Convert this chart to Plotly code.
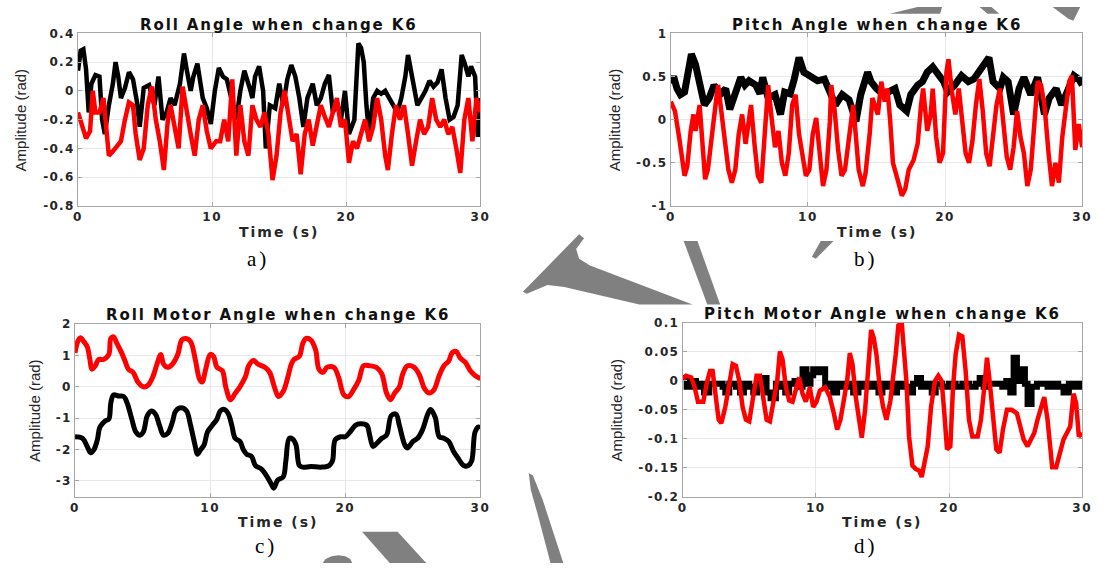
import plotly.graph_objects as go

W, H = 1105, 570

# ---------------- data ----------------
time_ticks = [0, 10, 20, 30]

roll_black = [(0,0.14),(0.2,0.28),(0.4,0.29),(0.6,0.15),(0.8,-0.15),(1.0,0.05),(1.3,0.11),(1.6,0.10),(1.8,-0.20),(2.0,-0.30),
              (2.3,-0.10),(2.6,0.05),(2.8,0.20),(3.0,0.10),(3.2,-0.05),(3.5,0.02),(3.8,0.13),(4.1,0.08),(4.4,-0.08),(4.6,-0.25),
              (4.9,0.02),(5.3,0.04),(5.7,-0.10),(6.0,0.10),(6.3,-0.20),(6.6,-0.15),(6.9,-0.05),(7.2,-0.10),(7.6,0.05),(7.9,0.26),
              (8.1,0.15),(8.4,0.00),(8.6,0.10),(8.9,0.19),(9.3,-0.05),(9.6,-0.12),(9.9,-0.23),(10.2,0.00),(10.5,0.16),(10.8,0.10),
              (11.1,0.08),(11.5,-0.10),(11.8,-0.20),(12.1,0.00),(12.4,0.14),(12.8,0.02),(13.0,-0.05),(13.2,0.10),(13.5,0.17),(13.8,0.00),
              (14.0,-0.40),(14.3,-0.10),(14.7,-0.12),(15.0,0.05),(15.3,-0.10),(15.6,0.08),(15.9,0.18),(16.2,0.10),(16.5,-0.05),(16.8,-0.25),
              (17.1,-0.05),(17.5,0.05),(17.8,-0.10),(18.1,-0.05),(18.4,0.05),(18.7,0.11),(19.0,-0.15),(19.3,-0.08),(19.6,-0.20),(19.9,0.00),
              (20.2,-0.30),(20.6,-0.20),(20.9,0.33),(21.1,0.30),(21.3,0.20),(21.5,-0.10),(21.7,-0.30),(22.0,-0.05),(22.3,0.00),(22.6,-0.02),
              (22.9,0.00),(23.2,-0.05),(23.5,-0.10),(23.8,-0.15),(24.1,-0.05),(24.4,0.10),(24.6,0.25),(24.8,0.15),(25.0,0.05),(25.3,-0.10),
              (25.6,-0.05),(25.9,0.00),(26.2,0.07),(26.5,0.03),(26.8,0.06),(27.1,0.15),(27.4,-0.05),(27.7,-0.20),(28.0,-0.18),(28.3,-0.10),
              (28.6,0.25),(28.8,0.20),(29.1,0.10),(29.3,0.17),(29.6,0.10),(29.8,-0.32),(30.0,-0.05)]

roll_red = [(0,-0.15),(0.3,-0.25),(0.6,-0.33),(0.9,-0.28),(1.1,0.00),(1.3,-0.15),(1.6,-0.15),(1.9,-0.05),(2.1,-0.30),(2.3,-0.45),
            (2.6,-0.42),(2.9,-0.38),(3.2,-0.35),(3.5,-0.20),(3.8,-0.08),(4.1,-0.10),(4.3,-0.30),(4.6,-0.48),(4.9,-0.40),(5.2,-0.10),
            (5.5,0.03),(5.8,-0.20),(6.1,-0.35),(6.4,-0.55),(6.7,-0.20),(6.9,-0.10),(7.2,-0.25),(7.5,-0.40),(7.8,0.03),(8.1,-0.15),
            (8.4,-0.30),(8.7,-0.45),(9.0,-0.20),(9.3,-0.10),(9.6,-0.28),(9.9,-0.40),(10.3,-0.35),(10.6,-0.35),(10.9,-0.20),(11.2,-0.35),
            (11.5,0.08),(11.8,-0.45),(12.1,-0.10),(12.4,-0.35),(12.7,-0.45),(13.0,-0.10),(13.3,-0.20),(13.6,-0.25),(13.9,-0.15),(14.2,-0.30),
            (14.5,-0.62),(14.8,-0.45),(15.1,-0.15),(15.4,0.00),(15.7,-0.20),(16.0,-0.35),(16.3,-0.30),(16.6,-0.58),(16.9,-0.30),(17.2,-0.20),
            (17.5,-0.38),(17.8,-0.25),(18.1,-0.10),(18.4,-0.18),(18.7,-0.25),(19.0,-0.15),(19.3,-0.05),(19.6,-0.25),(19.9,-0.20),(20.2,-0.50),
            (20.5,-0.35),(20.8,-0.40),(21.1,-0.30),(21.4,-0.20),(21.7,-0.35),(22.0,-0.25),(22.3,-0.05),(22.6,-0.20),(22.9,-0.45),(23.1,-0.55),
            (23.4,-0.30),(23.7,-0.10),(24.0,-0.20),(24.3,-0.10),(24.6,-0.30),(24.9,-0.52),(25.2,-0.35),(25.5,-0.20),(25.8,-0.30),(26.1,-0.25),
            (26.4,-0.05),(26.7,-0.20),(27.0,-0.25),(27.3,-0.20),(27.6,-0.30),(27.9,-0.25),(28.2,-0.40),(28.5,-0.57),(28.8,-0.20),(29.1,-0.05),
            (29.4,-0.35),(29.7,-0.05),(30.0,-0.15)]

pitch_black = [(0,0.42),(0.2,0.50),(0.45,0.36),(0.7,0.29),(1.0,0.32),(1.3,0.55),(1.5,0.76),(1.8,0.64),(2.2,0.36),(2.45,0.17),
               (2.8,0.25),(3.15,0.40),(3.6,0.29),(4.0,0.36),(4.3,0.12),(4.7,0.34),(5.1,0.49),(5.4,0.40),(5.7,0.45),(6.2,0.40),
               (6.5,0.30),(6.7,0.49),(7.1,0.25),(7.6,0.29),(8.0,0.06),(8.3,0.32),(8.7,0.30),(9.0,0.47),(9.35,0.72),(9.7,0.55),
               (10.2,0.49),(10.7,0.45),(11.2,0.47),(11.6,0.29),(12.0,0.17),(12.5,0.29),(13.0,0.23),(13.5,-0.02),(13.85,0.29),(14.35,0.55),
               (14.6,0.44),(15.0,0.36),(15.5,0.29),(15.85,0.32),(16.35,0.36),(16.7,0.17),(17.2,0.10),(17.5,0.29),(18.0,0.40),(18.35,0.44),
               (18.7,0.55),(19.1,0.61),(19.5,0.51),(19.9,0.44),(20.2,0.32),(20.7,0.40),(21.2,0.51),(21.7,0.44),(22.1,0.47),(22.5,0.55),
               (22.85,0.62),(23.2,0.72),(23.5,0.44),(24.0,0.36),(24.25,0.49),(24.6,0.44),(25.0,0.06),(25.4,0.36),(25.75,0.49),(26.25,0.29),
               (26.75,0.49),(27.25,0.06),(27.6,0.25),(28.1,0.36),(28.5,0.17),(29.0,0.36),(29.4,0.51),(29.75,0.47),(30.0,0.40)]

pitch_red = [(0,0.21),(0.3,0.10),(0.6,-0.20),(0.85,-0.54),(1.0,-0.65),(1.2,-0.54),(1.45,-0.13),(1.65,0.06),(1.8,-0.13),(2.1,0.17),
             (2.35,-0.39),(2.5,-0.69),(2.7,-0.58),(3.0,-0.13),(3.35,0.29),(3.45,0.40),(3.7,0.06),(3.95,-0.28),(4.2,-0.58),(4.45,-0.73),
             (4.7,-0.58),(4.95,-0.17),(5.2,0.06),(5.45,-0.28),(5.85,0.17),(6.1,-0.28),(6.35,-0.65),(6.6,-0.73),(6.85,-0.20),(7.1,0.40),
             (7.35,0.02),(7.6,-0.32),(7.85,-0.13),(8.1,-0.50),(8.35,-0.65),(8.6,-0.39),(8.85,0.17),(9.1,0.29),(9.35,-0.17),(9.6,-0.39),
             (9.85,-0.65),(10.1,-0.58),(10.35,-0.17),(10.6,0.02),(10.85,-0.35),(11.1,-0.77),(11.35,-0.58),(11.6,-0.02),(11.7,0.40),(11.95,0.10),
             (12.2,-0.35),(12.45,-0.65),(12.7,-0.58),(13.0,-0.17),(13.3,0.17),(13.5,-0.20),(13.7,-0.58),(14.0,-0.77),(14.2,-0.62),(14.5,-0.17),
             (14.7,0.25),(15.1,0.06),(15.35,0.44),(15.6,0.21),(15.8,0.36),(16.0,-0.02),(16.2,-0.50),(16.6,-0.73),(16.85,-0.88),(17.1,-0.80),
             (17.35,-0.58),(17.7,-0.47),(18.0,-0.28),(18.25,0.17),(18.4,0.36),(18.7,-0.13),(18.95,0.06),(19.1,0.36),(19.35,-0.20),(19.6,-0.50),
             (19.85,-0.39),(20.1,0.55),(20.25,0.70),(20.5,0.32),(20.75,0.06),(21.0,0.36),(21.25,-0.02),(21.5,-0.39),(21.75,-0.50),(22.0,-0.24),
             (22.25,0.17),(22.5,0.47),(22.75,0.10),(23.0,-0.39),(23.25,-0.54),(23.5,-0.13),(23.75,0.17),(24.0,0.36),(24.25,-0.02),(24.5,-0.43),
             (24.75,-0.58),(25.0,-0.32),(25.25,0.10),(25.5,-0.20),(25.75,-0.39),(26.0,-0.77),(26.25,-0.58),(26.5,-0.02),(26.75,0.44),(27.0,0.40),
             (27.25,0.17),(27.55,-0.39),(27.8,-0.77),(28.05,-0.50),(28.3,-0.73),(28.55,-0.20),(28.8,0.17),(29.05,0.44),(29.25,0.51),(29.5,-0.35),
             (29.75,-0.05),(30.0,-0.32)]

roll_motor_red = [(0,1.08),(0.2,1.44),(0.4,1.56),(0.65,1.44),(0.9,1.28),(1.1,0.87),(1.25,0.56),(1.5,0.67),(1.75,0.87),(2.1,0.87),
                  (2.5,1.03),(2.65,1.54),(2.85,1.59),(3.1,1.38),(3.45,1.08),(3.7,0.82),(3.95,0.56),(4.3,0.46),(4.65,0.15),(5.05,0.00),
                  (5.4,0.05),(5.75,0.31),(6.1,0.77),(6.35,1.03),(6.55,0.72),(6.85,0.62),(7.2,0.72),(7.6,1.03),(7.9,1.49),(8.2,1.54),
                  (8.55,1.44),(8.9,0.87),(9.2,0.26),(9.4,0.15),(9.7,0.62),(10.0,1.03),(10.25,0.97),(10.5,0.62),(10.9,0.51),(11.15,0.00),
                  (11.5,-0.41),(11.85,-0.21),(12.2,0.00),(12.6,0.31),(12.85,0.67),(13.2,0.84),(13.55,0.72),(14.05,0.62),(14.4,0.46),(14.75,0.00),
                  (15.05,-0.31),(15.4,-0.15),(15.75,0.31),(16.0,0.72),(16.2,0.87),(16.6,0.97),(16.85,1.38),(17.1,1.54),(17.45,1.49),(17.8,1.18),
                  (18.05,0.56),(18.35,0.46),(18.65,0.62),(19.15,0.62),(19.5,0.31),(19.9,-0.26),(20.25,-0.31),(20.6,-0.10),(21.0,0.21),(21.35,0.67),
                  (21.8,0.67),(22.3,0.62),(22.7,0.41),(23.05,-0.20),(23.35,-0.41),(23.65,-0.20),(24.0,0.00),(24.25,0.41),(24.6,0.67),(25.1,0.62),
                  (25.5,0.36),(25.85,-0.05),(26.2,-0.20),(26.55,-0.10),(26.95,0.36),(27.3,0.67),(27.65,0.82),(27.9,1.08),(28.2,1.13),(28.5,0.92),
                  (28.9,0.77),(29.25,0.51),(29.6,0.36),(30.0,0.26)]

roll_motor_black = [(0,-1.59),(0.55,-1.64),(0.9,-1.90),(1.15,-2.10),(1.4,-2.00),(1.65,-1.69),(1.85,-1.28),(2.25,-1.08),(2.5,-1.03),(2.65,-0.51),
                    (2.85,-0.26),(3.2,-0.29),(3.6,-0.31),(3.85,-0.51),(4.2,-1.03),(4.5,-1.44),(4.8,-1.54),(5.05,-1.44),(5.35,-0.92),(5.65,-0.77),
                    (5.95,-0.87),(6.25,-1.23),(6.55,-1.54),(6.85,-1.49),(7.2,-1.13),(7.45,-0.77),(7.85,-0.67),(8.25,-0.77),(8.55,-1.23),(8.9,-1.90),
                    (9.05,-2.15),(9.3,-2.00),(9.55,-1.85),(9.8,-1.44),(10.15,-1.23),(10.5,-1.03),(10.75,-0.77),(11.05,-0.72),(11.35,-0.87),(11.6,-1.23),
                    (11.85,-1.64),(12.2,-1.74),(12.45,-2.00),(12.7,-2.15),(13.05,-2.21),(13.35,-2.51),(13.8,-2.62),(14.15,-2.82),(14.5,-3.08),(14.7,-3.23),
                    (15.0,-2.97),(15.4,-2.87),(15.6,-2.36),(15.85,-1.64),(16.1,-1.66),(16.35,-1.85),(16.6,-2.51),(16.85,-2.56),(17.45,-2.54),(18.2,-2.56),
                    (18.8,-2.51),(19.05,-2.36),(19.25,-1.69),(19.65,-1.59),(20.0,-1.59),(20.35,-1.44),(20.75,-1.23),(21.1,-1.18),(21.6,-1.23),(21.8,-1.54),
                    (22.05,-1.90),(22.35,-1.79),(22.7,-1.64),(23.05,-1.54),(23.4,-0.92),(23.75,-0.87),(24.0,-1.23),(24.4,-1.85),(24.6,-1.95),(25.0,-1.74),
                    (25.35,-1.64),(25.7,-1.38),(26.1,-0.87),(26.3,-0.72),(26.65,-0.97),(26.95,-1.59),(27.3,-1.64),(27.65,-1.74),(28.0,-2.05),(28.4,-2.31),
                    (28.75,-2.51),(29.1,-2.51),(29.35,-2.36),(29.6,-1.44),(29.85,-1.28),(30.0,-1.33)]

pitch_motor_black = [(0,0.005),(0.3,-0.01),(0.6,0.0),(1.0,-0.01),(1.3,-0.005),(1.6,-0.02),(2.0,-0.005),(2.5,-0.005),(3.0,-0.01),(3.2,-0.02),
                     (3.5,-0.005),(4.0,-0.01),(4.3,-0.02),(4.6,-0.005),(5.0,-0.01),(5.3,-0.02),(5.6,-0.005),(6.0,0.005),(6.3,-0.02),(6.6,-0.03),
                     (7.0,-0.005),(7.4,-0.01),(7.7,-0.02),(8.0,-0.005),(8.4,0.0),(8.7,-0.01),(9.0,0.02),(9.3,-0.005),(9.6,0.01),(9.8,0.02),
                     (10.1,0.015),(10.4,0.02),(10.7,-0.01),(11.0,-0.005),(11.3,-0.02),(11.6,-0.005),(12.0,-0.01),(12.5,-0.005),(12.8,-0.02),(13.2,-0.005),
                     (13.6,-0.01),(14.0,-0.005),(14.4,-0.01),(14.7,-0.02),(15.0,-0.005),(15.4,-0.01),(15.8,-0.02),(16.1,-0.005),(16.5,-0.01),(17.0,-0.02),
                     (17.3,-0.005),(17.6,0.005),(17.9,-0.01),(18.3,-0.005),(18.7,-0.02),(19.0,-0.005),(19.5,-0.01),(20.0,-0.005),(20.5,-0.01),(21.0,-0.005),
                     (21.5,-0.01),(22.0,-0.005),(22.3,0.005),(22.6,-0.01),(23.0,-0.005),(23.5,-0.005),(24.0,-0.01),(24.3,0.0),(24.6,-0.02),(24.85,0.04),
                     (25.1,0.0),(25.4,0.02),(25.7,-0.005),(25.9,-0.04),(26.2,-0.01),(26.6,-0.005),(27.0,-0.005),(27.4,-0.01),(27.8,-0.005),(28.2,-0.01),
                     (28.6,-0.02),(29.0,-0.005),(29.4,-0.01),(29.8,-0.005),(30.0,-0.005)]

pitch_motor_red = [(0,0.003),(0.25,0.009),(0.65,0.006),(0.9,-0.011),(1.15,-0.036),(1.55,-0.036),(1.8,-0.005),(2.05,0.017),(2.25,0.017),(2.45,-0.028),
                   (2.7,-0.067),(2.9,-0.073),(3.2,-0.045),(3.5,-0.005),(3.75,0.029),(4.0,0.026),(4.25,0.0),(4.5,-0.045),(4.75,-0.067),(5.0,-0.07),
                   (5.3,-0.028),(5.55,0.009),(5.8,0.009),(6.05,-0.028),(6.3,-0.067),(6.55,-0.07),(6.8,-0.034),(7.1,0.0),(7.3,0.051),(7.5,0.037),
                   (7.75,-0.011),(8.0,-0.034),(8.25,-0.036),(8.5,-0.011),(8.75,0.006),(9.0,-0.022),(9.25,-0.036),(9.55,-0.011),(9.8,-0.045),(10.05,-0.036),
                   (10.3,-0.017),(10.7,-0.011),(11.05,-0.028),(11.35,-0.056),(11.6,-0.084),(11.85,-0.067),(12.1,-0.034),(12.35,0.0),(12.55,0.048),(12.75,0.029),
                   (13.0,-0.028),(13.25,-0.073),(13.45,-0.098),(13.7,-0.05),(13.9,0.012),(14.15,0.088),(14.35,0.074),(14.55,0.046),(14.8,-0.011),(15.05,-0.045),
                   (15.3,-0.067),(15.6,-0.034),(16.0,0.046),(16.2,0.096),(16.45,0.1),(16.6,0.057),(16.8,0.0),(17.0,-0.096),(17.25,-0.146),(17.5,-0.152),
                   (17.75,-0.155),(17.95,-0.166),(18.15,-0.146),(18.4,-0.113),(18.65,-0.045),(18.95,0.0),(19.2,0.009),(19.45,0.0),(19.65,-0.056),(19.85,-0.118),
                   (20.1,-0.113),(20.3,-0.011),(20.5,0.046),(20.75,0.08),(21.0,0.077),(21.25,0.017),(21.5,-0.067),(21.75,-0.096),(22.15,-0.096),(22.4,-0.067),
                   (22.65,-0.011),(22.85,0.04),(23.05,0.0),(23.3,-0.067),(23.55,-0.118),(23.8,-0.124),(24.05,-0.084),(24.35,-0.05),(24.7,-0.05),(25.1,-0.056),
                   (25.35,-0.079),(25.6,-0.101),(25.9,-0.113),(26.15,-0.101),(26.4,-0.09),(26.65,-0.067),(26.9,-0.05),(27.15,-0.028),(27.4,-0.067),(27.55,-0.113),
                   (27.75,-0.149),(28.05,-0.149),(28.35,-0.118),(28.6,-0.101),(28.85,-0.09),(29.1,-0.079),(29.35,-0.022),(29.55,-0.039),(29.75,-0.096),(30.0,-0.09)]

titles = ["Roll Angle when change K6", "Pitch Angle when change K6",
          "Roll Motor Angle when change K6", "Pitch Motor Angle when change K6"]
panel_labels = ["a)", "b)", "c)", "d)"]
x_label = "Time (s)"
y_label = "Amplitude (rad)"

yticks_a = [-0.8, -0.6, -0.4, -0.2, 0, 0.2, 0.4]
yticks_b = [-1, -0.5, 0, 0.5, 1]
yticks_c = [-3, -2, -1, 0, 1, 2]
yticks_d = [-0.2, -0.15, -0.1, -0.05, 0, 0.05, 0.1]

# ---------------- layout geometry (pixels) ----------------
def px(x): return x / W
def py(y): return 1 - y / H

panels = [
    dict(x0=74, x1=482, y0=27, y1=204, yr=[-0.8, 0.4], yt=yticks_a, ylx=16, xly=231,
         series=[(roll_black, "#000000", 4.5, "linear"), (roll_red, "#ff0000", 4.5, "linear")]),
    dict(x0=675, x1=1092, y0=27, y1=204, yr=[-1, 1], yt=yticks_b, ylx=618, xly=231,
         series=[(pitch_black, "#000000", 7, "linear"), (pitch_red, "#ff0000", 4.5, "linear")]),
    dict(x0=71, x1=482, y0=325, y1=502, yr=[-3.5, 2], yt=yticks_c, ylx=30, xly=528,
         series=[(roll_motor_black, "#000000", 5, "spline"), (roll_motor_red, "#ff0000", 5, "spline")]),
    dict(x0=687, x1=1092, y0=324, y1=502, yr=[-0.2, 0.1], yt=yticks_d, ylx=620, xly=528,
         series=[(pitch_motor_black, "#000000", 6, "hv"), (pitch_motor_red, "#ff0000", 4.5, "linear")]),
]

def fmt(v):
    return "%g" % v

def spaced(s, ls):
    return '<span style="letter-spacing:%spx">%s</span>' % (ls, s)

fig = go.Figure()
layout = dict(width=W, height=H, margin=dict(l=0, r=0, t=0, b=0),
              paper_bgcolor="white", plot_bgcolor="white", showlegend=False)

tickfont = dict(family="DejaVu Sans", size=12, color="#262626")
annotations = []
for i, p in enumerate(panels):
    xa = "xaxis" if i == 0 else "xaxis%d" % (i + 1)
    ya = "yaxis" if i == 0 else "yaxis%d" % (i + 1)
    xr = "x" if i == 0 else "x%d" % (i + 1)
    yr_ = "y" if i == 0 else "y%d" % (i + 1)
    common = dict(showline=True, linecolor="#a6a6a6", linewidth=1, mirror="ticks",
                  ticks="inside", ticklen=4, tickcolor="#a6a6a6",
                  showgrid=True, gridcolor="#e8e8e8", gridwidth=1, zeroline=False,
                  tickfont=tickfont)
    layout[xa] = dict(domain=[px(p["x0"]), px(p["x1"])], range=[0, 30], anchor=yr_,
                      tickvals=time_ticks,
                      ticktext=["<b>" + spaced(str(t), 1.5) + "</b>" for t in time_ticks], **common)
    layout[ya] = dict(domain=[py(p["y1"]), py(p["y0"])], range=p["yr"], anchor=xr,
                      tickvals=p["yt"],
                      ticktext=["<b>" + spaced(fmt(v), 1.3) + "</b>" for v in p["yt"]], **common)
    for data, color, width, shape in p["series"]:
        t, y = zip(*data)
        fig.add_trace(go.Scatter(x=list(t), y=list(y), mode="lines", xaxis=xr, yaxis=yr_,
                                 line=dict(color=color, width=width, shape=shape),
                                 hoverinfo="skip"))
    cx = (p["x0"] + p["x1"]) / 2
    # title
    annotations.append(dict(x=px(cx), y=py(p["y0"] - 9), xref="paper", yref="paper",
                            text="<b>" + spaced(titles[i], 1.9) + "</b>", showarrow=False,
                            xanchor="center", yanchor="middle",
                            font=dict(family="DejaVu Sans", size=15, color="#111111")))
    # x label
    annotations.append(dict(x=px(cx), y=py(p["xly"]), xref="paper", yref="paper",
                            text="<b>" + spaced(x_label, 2) + "</b>", showarrow=False,
                            xanchor="center", yanchor="middle",
                            font=dict(family="DejaVu Sans", size=14, color="#262626")))
    # y label
    annotations.append(dict(x=px(p["ylx"]), y=py((p["y0"] + p["y1"]) / 2), xref="paper", yref="paper",
                            text=y_label, showarrow=False, textangle=-90,
                            xanchor="center", yanchor="middle",
                            font=dict(family="Liberation Sans", size=15, color="#262626")))

# panel labels a) b) c) d)
label_pos = [(256, 258), (873, 258), (265, 553), (873, 553)]
for lab, (lx, ly) in zip(panel_labels, label_pos):
    annotations.append(dict(x=px(lx), y=py(ly), xref="paper", yref="paper",
                            text=spaced(lab, 3), showarrow=False, xanchor="center", yanchor="middle",
                            font=dict(family="Liberation Serif", size=21, color="#000000")))

layout["annotations"] = annotations

# grey watermark fragments (decoration)
wm = [
    [(525,292),(582,233),(587,237),(579,248),(582,258),(593,265),(697,305),(643,305),(567,287),(550,285),(529,294)],
    [(688,240),(702,240),(725,305),(712,305)],
    [(827,240),(840,240),(822,258),(818,256)],
    [(897,7),(948,7),(950,0),(925,0)],
    [(988,0),(1000,0),(1008,7),(996,7)],
    [(1062,0),(1090,0),(1083,14),(1078,12)],
    [(362,538),(398,538),(427,570),(390,570)],
    [(322,570),(325,566),(331,563),(338,562),(345,563),(350,566),(352,570)],
    [(531,478),(535,480),(545,505),(566,570),(553,570),(540,520),(533,495)],
]
shapes = []
for poly in wm:
    path = "M " + " L ".join("%.5f %.5f" % (px(x), py(y)) for x, y in poly) + " Z"
    shapes.append(dict(type="path", path=path, xref="paper", yref="paper",
                       fillcolor="#808080", line=dict(width=0), layer="below"))
layout["shapes"] = shapes

fig.update_layout(**layout)
fig.write_html("out.html")
